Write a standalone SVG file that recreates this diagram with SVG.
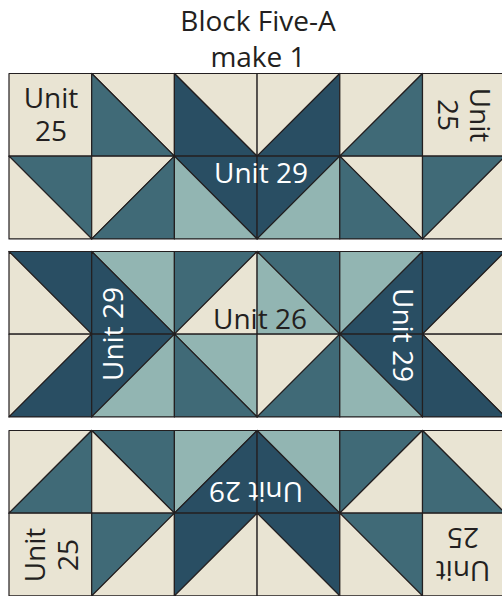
<svg xmlns="http://www.w3.org/2000/svg" xmlns:xlink="http://www.w3.org/1999/xlink" width="502" height="596" viewBox="0 0 502 596">
<style>
.c{fill:#E9E4D3}
.t{fill:#406A77}
.d{fill:#294E63}
.l{fill:#92B5B2}
use{stroke:#231F20;stroke-width:1.2;stroke-linejoin:round}
text{font-family:"Open Sans","Noto Sans","Liberation Sans",sans-serif;font-size:28px;text-anchor:middle}
.dk{fill:#231F20}
.wh{fill:#FFFFFF}
</style>
<defs>
<polygon id="sq" points="0,0 82.7,0 82.7,82.7 0,82.7"/>
<polygon id="ur" points="0,0 82.7,0 82.7,82.7"/>
<polygon id="ll" points="0,0 0,82.7 82.7,82.7"/>
<polygon id="ul" points="0,0 82.7,0 0,82.7"/>
<polygon id="lr" points="82.7,0 82.7,82.7 0,82.7"/>
</defs>
<rect width="502" height="596" fill="#FFFFFF"/>
<g id="title">
<text class="dk" x="258" y="31">Block Five-A</text>
<text class="dk" x="258" y="67">make 1</text>
</g>
<g id="row1">
<g id="r1-a1" transform="translate(9,73.5)"><use href="#sq" class="c"/></g>
<g id="r1-a2" transform="translate(91.7,73.5)"><use href="#ur" class="c"/><use href="#ll" class="t"/></g>
<g id="r1-a3" transform="translate(174.4,73.5)"><use href="#ur" class="c"/><use href="#ll" class="d"/></g>
<g id="r1-a4" transform="translate(257.1,73.5)"><use href="#ul" class="c"/><use href="#lr" class="d"/></g>
<g id="r1-a5" transform="translate(339.8,73.5)"><use href="#ul" class="c"/><use href="#lr" class="t"/></g>
<g id="r1-a6" transform="translate(422.5,73.5)"><use href="#sq" class="c"/></g>
<g id="r1-b1" transform="translate(9,156.2)"><use href="#ur" class="t"/><use href="#ll" class="c"/></g>
<g id="r1-b2" transform="translate(91.7,156.2)"><use href="#ul" class="c"/><use href="#lr" class="t"/></g>
<g id="r1-b3" transform="translate(174.4,156.2)"><use href="#ur" class="d"/><use href="#ll" class="l"/></g>
<g id="r1-b4" transform="translate(257.1,156.2)"><use href="#ul" class="d"/><use href="#lr" class="l"/></g>
<g id="r1-b5" transform="translate(339.8,156.2)"><use href="#ur" class="c"/><use href="#ll" class="t"/></g>
<g id="r1-b6" transform="translate(422.5,156.2)"><use href="#ul" class="t"/><use href="#lr" class="c"/></g>
<g id="r1-labels">
<text class="dk"><tspan x="51" y="108">Unit</tspan><tspan x="51" y="141">25</tspan></text>
<g transform="rotate(90,465,115)"><text class="dk"><tspan x="465" y="110.5">Unit</tspan><tspan x="465" y="142.5">25</tspan></text></g>
<text class="wh" x="261" y="183">Unit 29</text>
</g>
</g>
<g id="row2">
<g id="r2-a1" transform="translate(9,251.5)"><use href="#ur" class="d"/><use href="#ll" class="c"/></g>
<g id="r2-a2" transform="translate(91.7,251.5)"><use href="#ur" class="l"/><use href="#ll" class="d"/></g>
<g id="r2-a3" transform="translate(174.4,251.5)"><use href="#ul" class="t"/><use href="#lr" class="c"/></g>
<g id="r2-a4" transform="translate(257.1,251.5)"><use href="#ur" class="t"/><use href="#ll" class="l"/></g>
<g id="r2-a5" transform="translate(339.8,251.5)"><use href="#ul" class="l"/><use href="#lr" class="d"/></g>
<g id="r2-a6" transform="translate(422.5,251.5)"><use href="#ul" class="d"/><use href="#lr" class="c"/></g>
<g id="r2-b1" transform="translate(9,334.2)"><use href="#ul" class="c"/><use href="#lr" class="d"/></g>
<g id="r2-b2" transform="translate(91.7,334.2)"><use href="#ul" class="d"/><use href="#lr" class="l"/></g>
<g id="r2-b3" transform="translate(174.4,334.2)"><use href="#ur" class="l"/><use href="#ll" class="t"/></g>
<g id="r2-b4" transform="translate(257.1,334.2)"><use href="#ul" class="c"/><use href="#lr" class="t"/></g>
<g id="r2-b5" transform="translate(339.8,334.2)"><use href="#ur" class="d"/><use href="#ll" class="l"/></g>
<g id="r2-b6" transform="translate(422.5,334.2)"><use href="#ur" class="c"/><use href="#ll" class="d"/></g>
<g id="r2-labels">
<text class="dk" x="260" y="329">Unit 26</text>
<g transform="rotate(-90,123,334)"><text class="wh" x="123" y="334">Unit 29</text></g>
<g transform="rotate(90,393,335)"><text class="wh" x="393" y="335">Unit 29</text></g>
</g>
</g>
<g id="row3">
<g id="r3-a1" transform="translate(9,430.5)"><use href="#ul" class="c"/><use href="#lr" class="t"/></g>
<g id="r3-a2" transform="translate(91.7,430.5)"><use href="#ur" class="t"/><use href="#ll" class="c"/></g>
<g id="r3-a3" transform="translate(174.4,430.5)"><use href="#ul" class="l"/><use href="#lr" class="d"/></g>
<g id="r3-a4" transform="translate(257.1,430.5)"><use href="#ur" class="l"/><use href="#ll" class="d"/></g>
<g id="r3-a5" transform="translate(339.8,430.5)"><use href="#ul" class="t"/><use href="#lr" class="c"/></g>
<g id="r3-a6" transform="translate(422.5,430.5)"><use href="#ur" class="c"/><use href="#ll" class="t"/></g>
<g id="r3-b1" transform="translate(9,513.2)"><use href="#sq" class="c"/></g>
<g id="r3-b2" transform="translate(91.7,513.2)"><use href="#ul" class="t"/><use href="#lr" class="c"/></g>
<g id="r3-b3" transform="translate(174.4,513.2)"><use href="#ul" class="d"/><use href="#lr" class="c"/></g>
<g id="r3-b4" transform="translate(257.1,513.2)"><use href="#ur" class="d"/><use href="#ll" class="c"/></g>
<g id="r3-b5" transform="translate(339.8,513.2)"><use href="#ur" class="t"/><use href="#ll" class="c"/></g>
<g id="r3-b6" transform="translate(422.5,513.2)"><use href="#sq" class="c"/></g>
<g id="r3-labels">
<g transform="rotate(180,256,482)"><text class="wh" x="256" y="482">Unit 29</text></g>
<g transform="rotate(-90,50,555)"><text class="dk"><tspan x="50" y="550">Unit</tspan><tspan x="50" y="583">25</tspan></text></g>
<g transform="rotate(180,463,555)"><text class="dk"><tspan x="463" y="549.5">Unit</tspan><tspan x="463" y="582">25</tspan></text></g>
</g>
</g>
</svg>
